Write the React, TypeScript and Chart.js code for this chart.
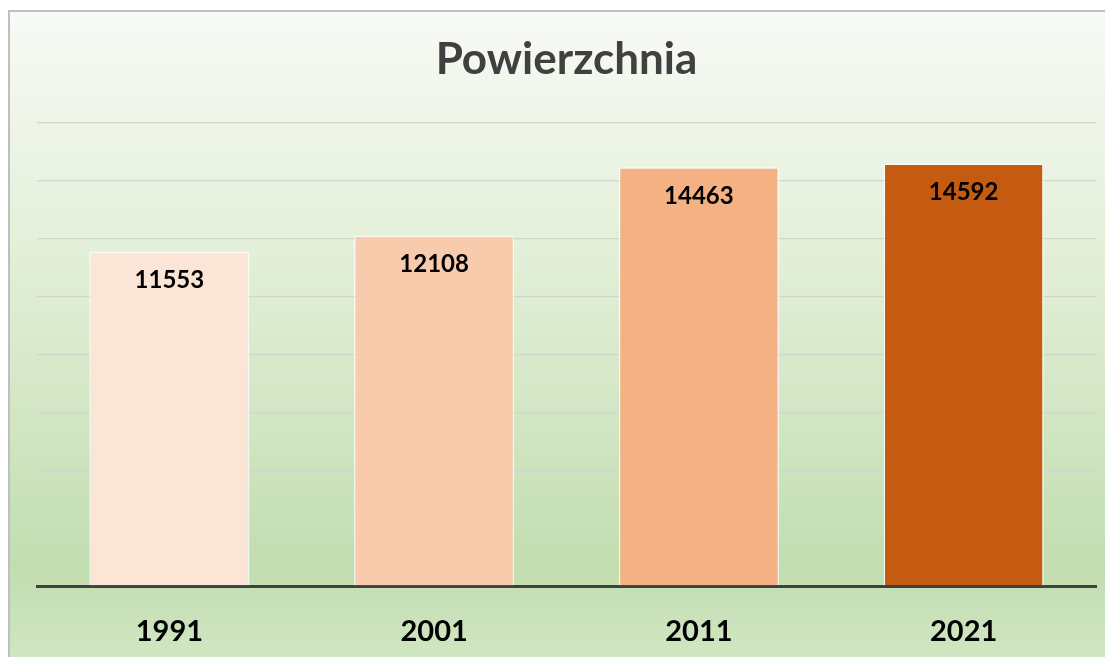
import React, { useEffect, useRef } from "react";
import { Chart, registerables } from "chart.js";

Chart.register(...registerables);

const categories = ["1991", "2001", "2011", "2021"];
const values = [11553, 12108, 14463, 14592];
const barColors = ["#FBE5D6", "#F8CBAD", "#F4B183", "#C55A11"];
const yMax = 16000;
const yStep = 2000;
const titleText = "Powierzchnia";
const FONT = "Lato, 'Open Sans', sans-serif";

const valueLabels = {
  id: "valueLabels",
  afterDatasetsDraw(chart: any) {
    const ctx = chart.ctx;
    const meta = chart.getDatasetMeta(0);
    ctx.save();
    ctx.font = `bold 24px ${FONT}`;
    ctx.fillStyle = "#000000";
    ctx.textAlign = "center";
    ctx.textBaseline = "middle";
    meta.data.forEach((el: any, i: number) => {
      ctx.fillText(String(values[i]), el.x, el.y + 29);
    });
    ctx.restore();
  },
};

export default function App() {
  const ref = useRef<HTMLCanvasElement | null>(null);
  useEffect(() => {
    document.body.style.overflow = "hidden";
    if (!ref.current) return;
    const chart = new Chart(ref.current, {
      type: "bar",
      data: {
        labels: categories,
        datasets: [
          {
            data: values,
            backgroundColor: barColors,
            borderColor: "rgba(255,255,255,0.75)",
            borderWidth: 1.5,
            categoryPercentage: 1,
            barPercentage: 0.605,
          },
        ],
      },
      options: {
        animation: false,
        responsive: false,
        layout: { padding: { left: 27, right: 17, top: 0, bottom: 0 } },
        plugins: {
          legend: { display: false },
          tooltip: { enabled: false },
          title: {
            display: true,
            text: titleText,
            color: "#404040",
            font: { family: FONT, size: 44, weight: "bold", lineHeight: 1.2 },
            padding: { top: 21, bottom: 37 },
          },
        },
        scales: {
          x: {
            grid: { display: false, drawTicks: false },
            border: { display: true, color: "#404040", width: 3 },
            ticks: {
              color: "#000000",
              font: { family: FONT, size: 29, weight: "bold" },
              padding: 28,
            },
            afterFit: (s: any) => {
              s.height = 71;
            },
          },
          y: {
            min: 0,
            max: yMax,
            ticks: { display: false, stepSize: yStep },
            grid: { color: "#cfd6ca", lineWidth: 1.3, drawTicks: false },
            border: { display: false },
            afterFit: (s: any) => {
              s.width = 0;
            },
          },
        },
      },
      plugins: [valueLabels],
    });
    return () => chart.destroy();
  }, []);

  return (
    <div
      style={{
        position: "relative",
        marginTop: 2,
        width: 1115,
        height: 655,
        border: "2px solid #bfbfbf",
        background:
          "linear-gradient(to bottom, #f8faf5 0%, #e4f0da 35%, #c2ddb0 85%, #d2e7c4 100%)",
      }}
    >
      <canvas ref={ref} width={1103} height={645} style={{ display: "block" }} />
    </div>
  );
}
